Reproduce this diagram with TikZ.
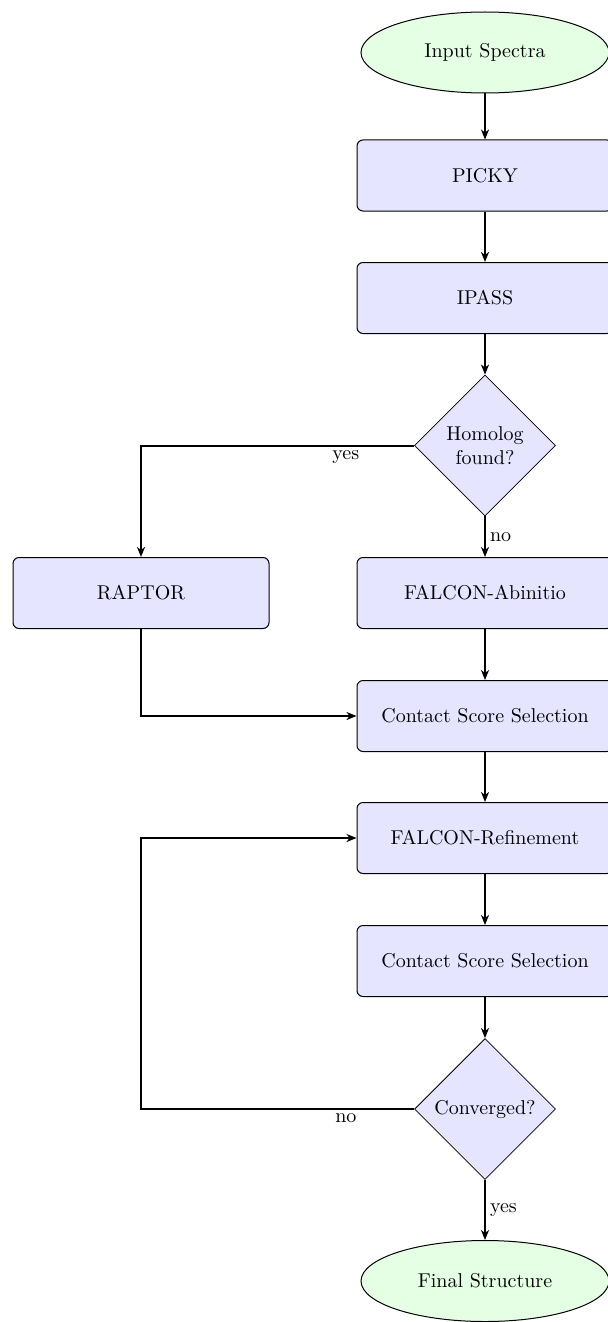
\documentclass[tikz,border=0pt]{standalone}
\usetikzlibrary{shapes.geometric,arrows.meta}

\definecolor{procfill}{RGB}{229,229,255}
\definecolor{termfill}{RGB}{229,255,229}

\tikzset{
  procbox/.style={rectangle, rounded corners=3pt, draw=black, line width=0.5pt,
    fill=procfill, minimum width=128pt, minimum height=35.5pt, inner sep=0pt, align=center},
  termnode/.style={ellipse, draw=black, line width=0.5pt, fill=termfill,
    minimum width=124pt, minimum height=40.5pt, inner sep=0pt, align=center},
  decision/.style={diamond, draw=black, line width=0.4pt, fill=procfill,
    minimum width=70.5pt, minimum height=70.5pt, inner sep=0pt, align=center},
  flow/.style={-{Stealth[length=5pt,width=4pt,inset=1.5pt]}, line width=1pt},
  lbl/.style={font=\normalsize, inner sep=2pt}
}

\begin{document}
\begin{tikzpicture}[x=0.5pt, y=-0.5pt]
  \useasboundingbox (0,0) rectangle (608,1322);

  % main column
  \node[termnode] (input)  at (485,52.5)  {Input Spectra};
  \node[procbox]  (picky)  at (485,175.5) {PICKY};
  \node[procbox]  (ipass)  at (485,298)   {IPASS};
  \node[decision] (homo)   at (485,445.5) {Homolog\\found?};
  \node[procbox]  (abinit) at (485,593)   {FALCON-Abinitio};
  \node[procbox]  (raptor) at (141,593)   {RAPTOR};
  \node[procbox]  (cs1)    at (485,716)   {Contact Score Selection};
  \node[procbox]  (refine) at (485,838)   {FALCON-Refinement};
  \node[procbox]  (cs2)    at (485,961)   {Contact Score Selection};
  \node[decision] (conv)   at (485,1109)  {Converged?};
  \node[termnode] (final)  at (485,1281)  {Final Structure};

  % connectors
  \draw[flow] (input) -- (picky);
  \draw[flow] (picky) -- (ipass);
  \draw[flow] (ipass) -- (homo);
  \draw[flow] (homo.west) -| node[lbl, pos=0.125, below] {yes} (raptor.north);
  \draw[flow] (homo) -- node[lbl, right] {no} (abinit);
  \draw[flow] (raptor.south) |- (cs1.west);
  \draw[flow] (abinit) -- (cs1);
  \draw[flow] (cs1) -- (refine);
  \draw[flow] (refine) -- (cs2);
  \draw[flow] (cs2) -- (conv);
  \draw[flow] (conv.west) -- node[lbl, pos=0.25, below] {no} (141,1109) |- (refine.west);
  \draw[flow] (conv) -- node[lbl, right] {yes} (final);
\end{tikzpicture}
\end{document}
